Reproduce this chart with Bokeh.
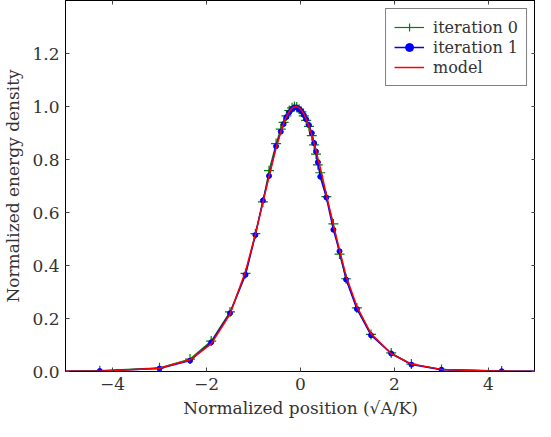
from bokeh.plotting import figure
from bokeh.models import LinearAxis, Legend, LegendItem, Range1d, FixedTicker
from bokeh.embed import file_html
from bokeh.resources import INLINE

# ---- data ----
x_pos = [-5.6, -4.27, -3.0, -2.35, -1.9, -1.5, -1.17, -0.96, -0.8, -0.67, -0.52, -0.42,
         -0.36, -0.3, -0.24, -0.18, -0.13, -0.08, -0.03, 0.02, 0.07, 0.12, 0.18, 0.24,
         0.29, 0.33, 0.37, 0.42, 0.55, 0.7, 0.83, 0.97, 1.2, 1.5, 1.93, 2.36, 3.0, 4.28, 5.6]

iter0 = [0.0003, 0.003, 0.014, 0.047, 0.115, 0.225, 0.37, 0.52, 0.64, 0.758, 0.86, 0.915,
         0.94, 0.965, 0.985, 0.995, 1.0, 0.998, 0.99, 0.98, 0.965, 0.948, 0.925, 0.89,
         0.855, 0.82, 0.78, 0.75, 0.66, 0.557, 0.443, 0.35, 0.24, 0.14, 0.07, 0.028, 0.008, 0.002, 0.0003]

iter1 = [0.0002, 0.002, 0.011, 0.041, 0.11, 0.22, 0.365, 0.515, 0.645, 0.738, 0.85, 0.905,
         0.934, 0.96, 0.978, 0.99, 0.997, 0.996, 0.99, 0.982, 0.968, 0.952, 0.93, 0.9,
         0.862, 0.83, 0.79, 0.735, 0.657, 0.535, 0.454, 0.347, 0.236, 0.137, 0.068, 0.026, 0.007, 0.001, 0.0002]

model = [0.00007, 0.001, 0.012, 0.044, 0.104, 0.216, 0.378, 0.518, 0.637, 0.736, 0.843, 0.904,
         0.935, 0.961, 0.981, 0.994, 0.999, 1.0, 0.995, 0.986, 0.972, 0.953, 0.925, 0.892,
         0.86, 0.835, 0.805, 0.77, 0.668, 0.552, 0.46, 0.36, 0.245, 0.143, 0.067, 0.028, 0.008, 0.0006, 0.00005]

x_ticks = [-4, -2, 0, 2, 4]
x_tick_labels = ["\u22124", "\u22122", "0", "2", "4"]
y_ticks = [0.0, 0.2, 0.4, 0.6, 0.8, 1.0, 1.2]
y_tick_labels = ["0.0", "0.2", "0.4", "0.6", "0.8", "1.0", "1.2"]

FONT = "DejaVu Serif"
TXT = "#333333"

p = figure(width=535, height=421, output_backend="svg", toolbar_location=None,
           x_range=Range1d(-5, 5), y_range=Range1d(0, 1.4),
           min_border_left=55, min_border_right=0, min_border_top=0, min_border_bottom=50)

p.xgrid.visible = False
p.ygrid.visible = False
p.outline_line_color = "black"
p.outline_line_width = 1

def style_axis(ax, labels=True):
    ax.axis_line_color = "black"
    ax.major_tick_in = 4
    ax.major_tick_out = 0
    ax.minor_tick_line_color = None
    ax.major_tick_line_color = "#444444"
    if labels:
        ax.major_label_text_font = FONT
        ax.major_label_text_font_size = "17px"
        ax.major_label_text_color = TXT
        ax.axis_label_text_font = FONT
        ax.axis_label_text_font_size = "17px"
        ax.axis_label_text_font_style = "normal"
        ax.axis_label_text_color = TXT

p.xaxis.ticker = FixedTicker(ticks=x_ticks)
p.yaxis.ticker = FixedTicker(ticks=y_ticks)
style_axis(p.xaxis[0])
style_axis(p.yaxis[0])
p.xaxis.major_label_standoff = 6
p.yaxis.major_label_standoff = 6
p.xaxis.axis_label = "Normalized position (√A/K)"
p.yaxis.axis_label = "Normalized energy density"
p.xaxis.axis_label_standoff = 5
p.yaxis.axis_label_standoff = 6
p.xaxis.major_label_overrides = dict(zip(x_ticks, x_tick_labels))
p.yaxis.major_label_overrides = dict(zip(y_ticks, y_tick_labels))

top = LinearAxis(ticker=FixedTicker(ticks=x_ticks))
right = LinearAxis(ticker=FixedTicker(ticks=y_ticks))
for ax in (top, right):
    style_axis(ax, labels=False)
    ax.major_label_text_color = None
    ax.major_label_text_font_size = "1px"
    ax.major_label_standoff = 0
p.add_layout(top, "above")
p.add_layout(right, "right")

g_line = p.line(x_pos, iter0, line_color="#008000", line_width=1.2)
g_mark = p.scatter(x_pos, iter0, marker="cross", size=10, line_color="#008000", line_width=1.2)
b_line = p.line(x_pos, iter1, line_color="#0000ff", line_width=1.5)
b_mark = p.scatter(x_pos, iter1, marker="circle", size=5, fill_color="#0000ff", line_color="#0000ff")
r_line = p.line(x_pos, model, line_color="#ff0000", line_width=1.5)

legend = Legend(items=[
    LegendItem(label="iteration 0", renderers=[g_line, g_mark]),
    LegendItem(label="iteration 1", renderers=[b_line, b_mark]),
    LegendItem(label="model", renderers=[r_line]),
], location="top_right")
legend.label_text_font = FONT
legend.label_text_font_size = "16px"
legend.label_text_color = TXT
legend.border_line_color = "black"
legend.border_line_width = 1
legend.background_fill_alpha = 1
legend.glyph_width = 30
legend.glyph_height = 20
legend.label_height = 20
legend.spacing = 0
legend.padding = 8
legend.margin = 8
legend.label_standoff = 9
p.add_layout(legend)

open("out.html", "w").write(file_html(p, INLINE))
